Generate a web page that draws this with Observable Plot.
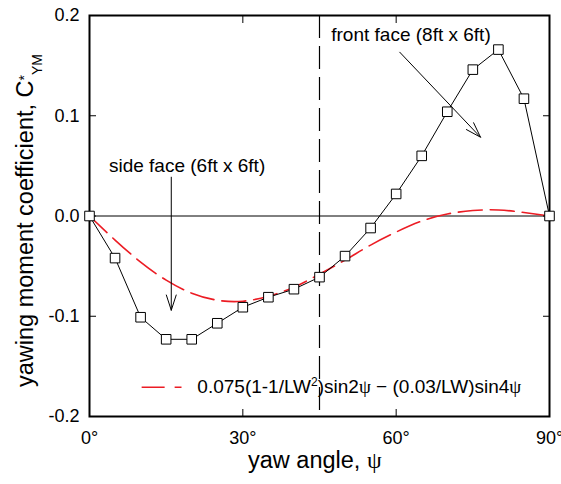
<!DOCTYPE html>
<html><head><meta charset="utf-8">
<script src="https://cdn.jsdelivr.net/npm/d3@7"></script>
<script src="https://cdn.jsdelivr.net/npm/@observablehq/plot@0.6"></script>
<style>body{margin:0;background:#fff;} svg{display:block}</style>
</head><body><div id="chart"></div>
<script>
// ---- data ----
const angles = [0,5,10,15,20,25,30,35,40,45,50,55,60,65,70,75,80,85,90];
const measured = [0,-0.042,-0.101,-0.123,-0.123,-0.107,-0.091,-0.081,-0.073,-0.061,-0.040,-0.012,0.022,0.060,0.104,0.146,0.166,0.117,0.0];
const modelAngles = [0,5,10,15,20,25,30,35,40,45,50,55,60,65,70,75,80,85,90];
const modelValues = [0,-0.024,-0.046,-0.064,-0.077,-0.084,-0.085,-0.080,-0.071,-0.058,-0.044,-0.029,-0.016,-0.005,0.002,0.0055,0.006,0.0035,0];
const xTicks = [0,30,60,90];
const yTicks = [-0.2,-0.1,0,0.1,0.2];
const xInnerTicks = [30,60];
const yInnerTicks = [-0.1,0,0.1];
const refAngle = [45];
const sideLabel = ["side face (6ft x 6ft)"];
const frontLabel = ["front face (8ft x 6ft)"];
const legendLabel = ["0.075(1-1/LW²)sin2ψ − (0.03/LW)sin4ψ"];
const xTitle = "yaw angle, ";
const yTitle = "yawing moment coefficient, C";

// annotation anchors (data units)
const sidePos = {x: 3.8, y: 0.0496};
const frontPos = {x: 47.3, y: 0.1804};
const sideArrow = [{x1: 16.0, y1: 0.0387, x2: 16.0, y2: -0.094}];
const frontArrow = [{x1: 60.7, y1: 0.1634, x2: 76.5, y2: 0.0786}];
const legendPos = {x1: 10.3, x2: 18.1, y: -0.1708, tx: 21.1};

const measData = angles.map((a, i) => ({a, v: measured[i]}));
const modelData = modelAngles.map((a, i) => ({a, v: modelValues[i]}));
const RED = "#ec1c24";
const FONT = "'Liberation Sans', Arial, sans-serif";

const chart = Plot.plot({
  width: 561, height: 484,
  marginLeft: 89, marginRight: 12, marginTop: 15, marginBottom: 68,
  style: {fontFamily: FONT, fontSize: "18px", background: "#fff", color: "#000"},
  x: {domain: [0, 90]},
  y: {domain: [-0.2, 0.2]},
  marks: [
    Plot.ruleY([0], {stroke: "#000", strokeWidth: 1}),
    Plot.ruleX(refAngle, {y1: 0.2, y2: -0.2, stroke: "#000", strokeWidth: 1.2, strokeDasharray: "23,8"}),
    Plot.line(modelData, {x: "a", y: "v", stroke: RED, strokeWidth: 1.6, strokeDasharray: "24,8", curve: "natural"}),
    Plot.line(measData, {x: "a", y: "v", stroke: "#000", strokeWidth: 1}),
    Plot.arrow(sideArrow, {x1: "x1", y1: "y1", x2: "x2", y2: "y2", stroke: "#000", strokeWidth: 1, headLength: 24, headAngle: 36}),
    Plot.arrow(frontArrow, {x1: "x1", y1: "y1", x2: "x2", y2: "y2", stroke: "#000", strokeWidth: 1, headLength: 24, headAngle: 36}),
    Plot.text(sideLabel, {x: sidePos.x, y: sidePos.y, text: d => d, textAnchor: "start", lineAnchor: "middle", fontSize: 19, fill: "#000"}),
    Plot.text(frontLabel, {x: frontPos.x, y: frontPos.y, text: d => d, textAnchor: "start", lineAnchor: "middle", fontSize: 19, fill: "#000"}),
    Plot.ruleY([legendPos.y], {x1: legendPos.x1, x2: legendPos.x2, stroke: RED, strokeWidth: 1.6, strokeDasharray: "23,10"}),
    Plot.text(legendLabel, {x: legendPos.tx, y: legendPos.y, text: d => d, textAnchor: "start", lineAnchor: "middle", fontSize: 19, fill: "#000"}),
    Plot.axisY({anchor: "left", ticks: yTicks, tickSize: 0, tickPadding: 10, tickFormat: d => d.toFixed(1), fontSize: 18, label: null}),
    Plot.axisX({anchor: "bottom", ticks: xTicks, tickSize: 0, tickPadding: 15, tickFormat: d => d + "°", fontSize: 18, label: null}),
    Plot.axisY(yInnerTicks, {anchor: "left", tickSize: 7, dx: 7, fill: "none", label: null}),
    Plot.axisY(yInnerTicks, {anchor: "right", tickSize: 7, dx: -7, fill: "none", label: null}),
    Plot.axisX(xInnerTicks, {anchor: "bottom", tickSize: 7, dy: -7, fill: "none", label: null}),
    Plot.axisX(xInnerTicks, {anchor: "top", tickSize: 7, dy: 7, fill: "none", label: null}),
    Plot.frame({stroke: "#000", strokeWidth: 2}),
    Plot.dot(measData, {x: "a", y: "v", symbol: "square", r: 5.4, stroke: "#000", fill: "#fff", strokeWidth: 1})
  ]
});
document.getElementById("chart").appendChild(chart);

const svg = d3.select(chart);
// rich legend text (superscript, serif psi)
svg.selectAll("text").filter(function() { return this.textContent === legendLabel[0]; }).each(function() {
  const t = d3.select(this);
  t.text(null);
  t.append("tspan").text("0.075(1-1/LW");
  t.append("tspan").attr("font-size", 12).attr("dy", -7).text("2");
  t.append("tspan").attr("dy", 7).text(")sin2");
  t.append("tspan").attr("font-family", "'Liberation Serif', serif").text("ψ");
  t.append("tspan").text(" − (0.03/LW)sin4");
  t.append("tspan").attr("font-family", "'Liberation Serif', serif").text("ψ");
});
// axis titles
const xt = svg.append("text").attr("x", 248).attr("y", 468).attr("font-size", 23.5).attr("fill", "#000")
  .attr("font-family", FONT).attr("text-anchor", "start");
xt.append("tspan").text(xTitle);
xt.append("tspan").attr("font-family", "'Liberation Serif', serif").text("ψ");
const yt = svg.append("text").attr("transform", "translate(33,387) rotate(-90)").attr("font-size", 23.5).attr("fill", "#000")
  .attr("font-family", FONT).attr("text-anchor", "start");
yt.append("tspan").text(yTitle);
yt.append("tspan").attr("font-size", 14).attr("dy", -4).text("*");
yt.append("tspan").attr("font-size", 14).attr("dy", 13).text("YM");
</script>
</body></html>
